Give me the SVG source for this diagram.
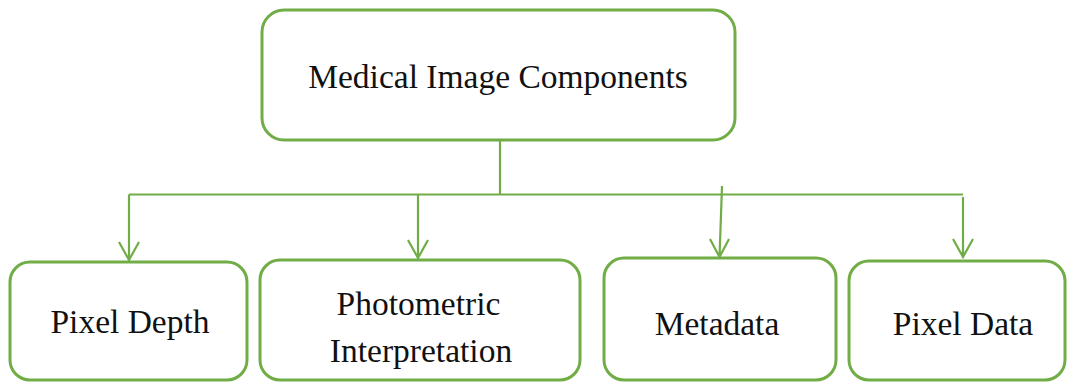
<svg xmlns="http://www.w3.org/2000/svg" width="1067" height="382" viewBox="0 0 1067 382">
  <style>
    .box { fill: #ffffff; stroke: #70AD47; stroke-width: 3; }
    .lbl { font-family: "Liberation Serif", "Times New Roman", serif; font-size: 33.5px; fill: #111111; text-anchor: middle; }
    .wire { fill: none; stroke: #70AD47; stroke-width: 2.2; }
  </style>
  <rect width="1067" height="382" fill="#ffffff"/>

  <g id="root">
    <rect class="box" x="262" y="10" width="473" height="130" rx="22"/>
    <text class="lbl" x="498" y="88">Medical Image Components</text>
  </g>

  <g id="pixel-depth">
    <rect class="box" x="10" y="262" width="237" height="118" rx="20"/>
    <text class="lbl" x="130" y="333">Pixel Depth</text>
  </g>

  <g id="photometric">
    <rect class="box" x="260" y="260" width="320" height="120" rx="20"/>
    <text class="lbl" x="418.5" y="315">Photometric</text>
    <text class="lbl" x="421" y="362">Interpretation</text>
  </g>

  <g id="metadata">
    <rect class="box" x="604" y="258" width="232" height="122" rx="20"/>
    <text class="lbl" x="717" y="335">Metadata</text>
  </g>

  <g id="pixel-data">
    <rect class="box" x="849" y="261" width="216" height="119" rx="20"/>
    <text class="lbl" x="963" y="335">Pixel Data</text>
  </g>

  <g id="connectors">
    <!-- trunk and bus -->
    <path class="wire" d="M500 140 V194"/>
    <path class="wire" d="M129 194.5 H963"/>
    <!-- drops -->
    <path class="wire" d="M129 194.5 V260 M119 242 L129 260 L139 242"/>
    <path class="wire" d="M418 194.5 V258 M408 240 L418 258 L428 240"/>
    <path class="wire" d="M722 186 L719.5 257 M710 239 L719.5 257 L729 239"/>
    <path class="wire" d="M963 197 V257 M953 239 L963 257 L973 239"/>
  </g>
</svg>
